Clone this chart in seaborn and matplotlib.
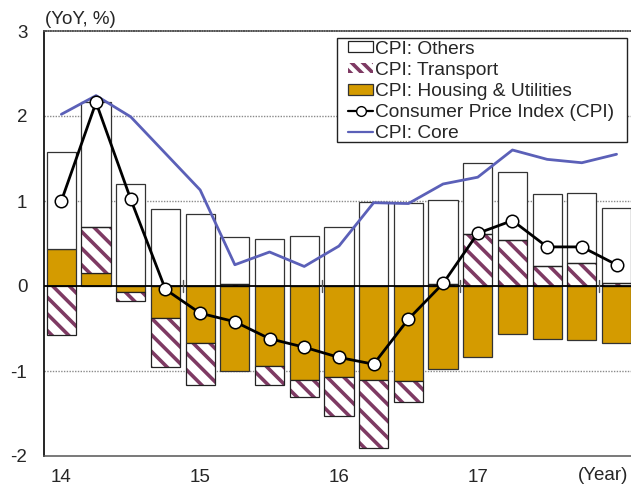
import numpy as np
import pandas as pd
import matplotlib
matplotlib.use("Agg")
import matplotlib.pyplot as plt
from matplotlib.patches import Patch, Rectangle
from matplotlib.lines import Line2D
import seaborn as sns

# ---- data (quarterly, 2014Q1 - 2018Q1) ----
quarters = ["14Q1", "14Q2", "14Q3", "14Q4", "15Q1", "15Q2", "15Q3", "15Q4",
            "16Q1", "16Q2", "16Q3", "16Q4", "17Q1", "17Q2", "17Q3", "17Q4", "18Q1"]
housing = [0.43, 0.15, -0.07, -0.38, -0.67, -1.00, -0.94, -1.11,
           -1.07, -1.10, -1.12, -0.98, -0.83, -0.57, -0.62, -0.64, -0.67]
transport = [-0.58, 0.54, -0.11, -0.57, -0.50, 0.02, -0.23, -0.20,
             -0.46, -0.81, -0.25, 0.02, 0.61, 0.54, 0.24, 0.27, 0.04]
others = [1.15, 1.47, 1.20, 0.91, 0.85, 0.56, 0.55, 0.59,
          0.69, 0.99, 0.98, 0.99, 0.84, 0.80, 0.84, 0.83, 0.88]
cpi = [1.00, 2.16, 1.02, -0.04, -0.32, -0.42, -0.62, -0.72,
       -0.84, -0.92, -0.39, 0.03, 0.62, 0.77, 0.46, 0.46, 0.25]
core = [2.02, 2.24, 1.99, 1.56, 1.13, 0.25, 0.40, 0.23,
        0.47, 0.98, 0.97, 1.20, 1.28, 1.60, 1.49, 1.45, 1.55]
year_labels = ["14", "15", "16", "17"]

# ---- styles ----
sns.set_style("white")
plt.rcParams["font.family"] = ["Liberation Sans", "DejaVu Sans"]
plt.rcParams["hatch.linewidth"] = 2.6

HOUSING_C = "#D49B00"
TRANSPORT_C = "#7E3A63"
CORE_C = "#5B60B8"
FS = 13.5

fig = plt.figure(figsize=(6.31, 4.84), dpi=100)
ax = fig.add_axes([44 / 631, 28 / 484, 587 / 631, 425 / 484])

x = np.arange(len(quarters))
w = 0.84
h = np.array(housing)
t = np.array(transport)
o = np.array(others)

pos_bottom = np.zeros(len(x))
neg_bottom = np.zeros(len(x))

# housing
hb = np.where(h >= 0, pos_bottom, neg_bottom)
ax.bar(x, h, w, bottom=hb, color=HOUSING_C, edgecolor="#333333", linewidth=0.9, zorder=2)
pos_bottom = pos_bottom + np.where(h >= 0, h, 0)
neg_bottom = neg_bottom + np.where(h < 0, h, 0)

# transport (hatched)
tb = np.where(t >= 0, pos_bottom, neg_bottom)
ax.bar(x, t, w, bottom=tb, color="white", edgecolor=TRANSPORT_C, hatch="\\\\",
       linewidth=0, zorder=2)
ax.bar(x, t, w, bottom=tb, fill=False, edgecolor="#222222", linewidth=0.9, zorder=2.1)
pos_bottom = pos_bottom + np.where(t >= 0, t, 0)
neg_bottom = neg_bottom + np.where(t < 0, t, 0)

# others
ob = np.where(o >= 0, pos_bottom, neg_bottom)
ax.bar(x, o, w, bottom=ob, color="white", edgecolor="#333333", linewidth=0.9, zorder=2)

# zero line and year separators
ax.axhline(0, color="black", lw=1.3, zorder=3)
for b in [3.5, 7.5, 11.5, 15.5]:
    ax.plot([b, b], [-0.07, 0.07], color="#555555", lw=1, zorder=3)

# lines
df = pd.DataFrame({"x": x, "cpi": cpi, "core": core})
sns.lineplot(data=df, x="x", y="core", color=CORE_C, lw=2, ax=ax, zorder=4)
sns.lineplot(data=df, x="x", y="cpi", color="black", lw=2, marker="o",
             markersize=9, markerfacecolor="white", markeredgecolor="black",
             markeredgewidth=1.1, ax=ax, zorder=5)

# axes
ax.set_xlim(-0.5, -0.5 + 587 / 34.7)
ax.set_ylim(-2, 3)
ax.set_yticks([-2, -1, 0, 1, 2, 3])
ax.set_yticklabels(["-2", "-1", "0", "1", "2", "3"])
ax.set_xticks([0, 4, 8, 12])
ax.set_xticklabels(year_labels)
ax.set_xlabel("")
ax.set_ylabel("")
ax.tick_params(axis="y", direction="in", length=5, width=1, color="#333333",
               pad=12, labelsize=FS)
ax.tick_params(axis="x", length=0, pad=9, labelsize=FS)

for yv in [-1, 1, 2]:
    ax.axhline(yv, color="#8a8a8a", lw=1, ls=(0, (1, 1)), zorder=1)

ax.spines["left"].set_color("black")
ax.spines["left"].set_linewidth(1.2)
ax.spines["top"].set_color("#555555")
ax.spines["top"].set_linestyle((0, (1, 0.6)))
ax.spines["top"].set_linewidth(1.1)
ax.spines["bottom"].set_color("#555555")
ax.spines["bottom"].set_linewidth(1.1)
ax.spines["right"].set_visible(False)

ax.text(0.002, 1.008, "(YoY, %)", transform=ax.transAxes, ha="left", va="bottom",
        fontsize=FS)
ax.text(0.995, -0.047, "(Year)", transform=ax.transAxes, ha="right", va="center",
        fontsize=FS)

# legend frame (drawn manually: wide side padding, tight top/bottom)
frame = Rectangle((0.4991, 0.7388), 0.9932 - 0.4991, 0.9835 - 0.7388,
                  transform=ax.transAxes, facecolor="white", edgecolor="#222222",
                  linewidth=1, zorder=9)
ax.add_patch(frame)

handles = [
    Patch(facecolor="white", edgecolor="#222222", linewidth=0.9),
    Patch(facecolor="white", edgecolor=TRANSPORT_C, hatch="\\\\\\", linewidth=0),
    Patch(facecolor=HOUSING_C, edgecolor="#333333", linewidth=0.9),
    Line2D([], [], color="black", lw=1.6, marker="o", markersize=7,
           markerfacecolor="white", markeredgecolor="black"),
    Line2D([], [], color=CORE_C, lw=1.6),
]
labels = ["CPI: Others", "CPI: Transport", "CPI: Housing & Utilities",
          "Consumer Price Index (CPI)", "CPI: Core"]
leg = ax.legend(handles, labels, loc="upper left", bbox_to_anchor=(0.5179, 0.9775),
                borderaxespad=0, borderpad=0, fontsize=13.8, handlelength=1.32,
                handleheight=0.5, handletextpad=0.1, labelspacing=0.22,
                frameon=False)
leg.set_zorder(10)

fig.savefig("out.png", dpi=100)
